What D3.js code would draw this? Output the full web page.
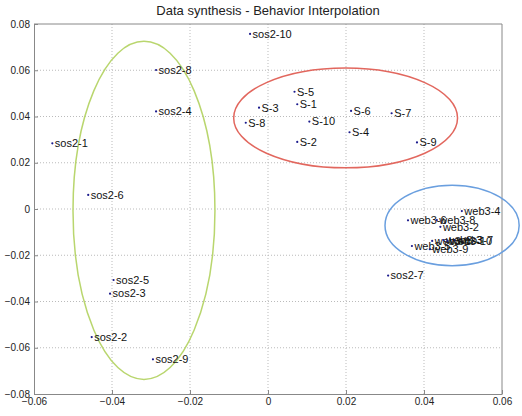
<!DOCTYPE html>
<html>
<head>
<meta charset="utf-8">
<script src="https://cdn.jsdelivr.net/npm/d3@7"></script>
<style>
  body { margin: 0; background: #fff; }
  text { font-family: "Liberation Sans", Arial, sans-serif; }
</style>
</head>
<body>
<script>
'use strict';

// point labels and coordinates
const names = ["sos2-1", "sos2-2", "sos2-3", "sos2-4", "sos2-5", "sos2-6", "sos2-7", "sos2-8", "sos2-9", "sos2-10",
  "S-1", "S-2", "S-3", "S-4", "S-5", "S-6", "S-7", "S-8", "S-9", "S-10",
  "web3-1", "web3-2", "web3-3", "web3-4", "web3-5", "web3-6", "web3-7", "web3-8", "web3-9", "web3-10"];
const xs = [-0.0553, -0.0452, -0.0405, -0.0287, -0.0396, -0.0461, 0.0308, -0.0287, -0.0295, -0.0046,
  0.0075, 0.0075, -0.0023, 0.0209, 0.0068, 0.0213, 0.0317, -0.0057, 0.0382, 0.0106,
  0.0421, 0.0442, 0.0450, 0.0497, 0.0369, 0.0359, 0.0478, 0.0433, 0.0415, 0.0460];
const ys = [0.0284, -0.0554, -0.0366, 0.0422, -0.0307, 0.0061, -0.0288, 0.0601, -0.0650, 0.0757,
  0.0453, 0.0290, 0.0438, 0.0332, 0.0507, 0.0424, 0.0414, 0.0373, 0.0288, 0.0378,
  -0.0138, -0.0077, -0.0134, -0.0009, -0.0160, -0.0049, -0.0134, -0.0048, -0.0174, -0.0138];

// cluster ellipses: centre x, centre y, radius x, radius y
const ellCx = [-0.0318, 0.0199, 0.0472];
const ellCy = [-0.0006, 0.0394, -0.0071];
const ellRx = [0.0182, 0.0287, 0.0172];
const ellRy = [0.0731, 0.0216, 0.0174];
const ellColors = ["#b9d66e", "#e2675e", "#6a9fdf"];

const xTicks = [-0.06, -0.04, -0.02, 0, 0.02, 0.04, 0.06];
const yTicks = [-0.08, -0.06, -0.04, -0.02, 0, 0.02, 0.04, 0.06, 0.08];

const width = 522, height = 416;
const margin = { left: 34, right: 20, top: 24, bottom: 22 };

const svg = d3.select('body').append('svg')
  .attr('width', width)
  .attr('height', height);

const xScale = d3.scaleLinear().domain([-0.06, 0.06]).range([margin.left, width - margin.right]);
const yScale = d3.scaleLinear().domain([-0.08, 0.08]).range([height - margin.bottom, margin.top]);

const fmt = d => d === 0 ? "0" : d3.format(".2f")(d);

// grid lines
svg.append('g').selectAll('line')
  .data(xTicks.slice(1, -1))
  .enter().append('line')
  .attr('x1', d => xScale(d)).attr('x2', d => xScale(d))
  .attr('y1', yScale(0.08)).attr('y2', yScale(-0.08))
  .attr('stroke', '#bbb').attr('stroke-dasharray', '1,2');

svg.append('g').selectAll('line')
  .data(yTicks.slice(1, -1))
  .enter().append('line')
  .attr('y1', d => yScale(d)).attr('y2', d => yScale(d))
  .attr('x1', xScale(-0.06)).attr('x2', xScale(0.06))
  .attr('stroke', '#bbb').attr('stroke-dasharray', '1,2');

// axes
const xAxis = svg.append('g')
  .attr('transform', `translate(0, ${yScale(-0.08)})`)
  .call(d3.axisBottom(xScale).tickValues(xTicks).tickFormat(fmt).tickSizeInner(-4).tickSizeOuter(0).tickPadding(4));
const yAxis = svg.append('g')
  .attr('transform', `translate(${xScale(-0.06)}, 0)`)
  .call(d3.axisLeft(yScale).tickValues(yTicks).tickFormat(fmt).tickSizeInner(-4).tickSizeOuter(0).tickPadding(4));
[xAxis, yAxis].forEach(a => {
  a.selectAll('path, line').attr('stroke', '#888');
  a.selectAll('text').attr('fill', '#222').style('font-size', '10px')
    .style('font-family', '"Liberation Sans", Arial, sans-serif');
});

// top and right frame
svg.append('line')
  .attr('x1', xScale(-0.06)).attr('x2', xScale(0.06))
  .attr('y1', yScale(0.08)).attr('y2', yScale(0.08))
  .attr('stroke', '#888');
svg.append('line')
  .attr('x1', xScale(0.06)).attr('x2', xScale(0.06))
  .attr('y1', yScale(0.08)).attr('y2', yScale(-0.08))
  .attr('stroke', '#888');

// ellipses
svg.append('g').selectAll('ellipse')
  .data(ellCx)
  .enter().append('ellipse')
  .attr('cx', d => xScale(d))
  .attr('cy', (d, i) => yScale(ellCy[i]))
  .attr('rx', (d, i) => xScale(ellRx[i]) - xScale(0))
  .attr('ry', (d, i) => yScale(0) - yScale(ellRy[i]))
  .attr('fill', 'none')
  .attr('stroke', (d, i) => ellColors[i])
  .attr('stroke-width', 1.5);

// points and labels
const pts = svg.append('g').selectAll('g')
  .data(names)
  .enter().append('g')
  .attr('transform', (d, i) => `translate(${xScale(xs[i])}, ${yScale(ys[i])})`);
pts.append('circle')
  .attr('r', 1.1)
  .attr('fill', '#1a1a8c');
pts.append('text')
  .attr('x', 2.5)
  .attr('dy', '0.35em')
  .style('font-size', '11px')
  .attr('fill', '#111')
  .text(d => d);

// title
svg.append('text')
  .attr('x', 268)
  .attr('y', 15)
  .attr('text-anchor', 'middle')
  .style('font-size', '13px')
  .attr('fill', '#222')
  .text('Data synthesis - Behavior Interpolation');
</script>
</body>
</html>
